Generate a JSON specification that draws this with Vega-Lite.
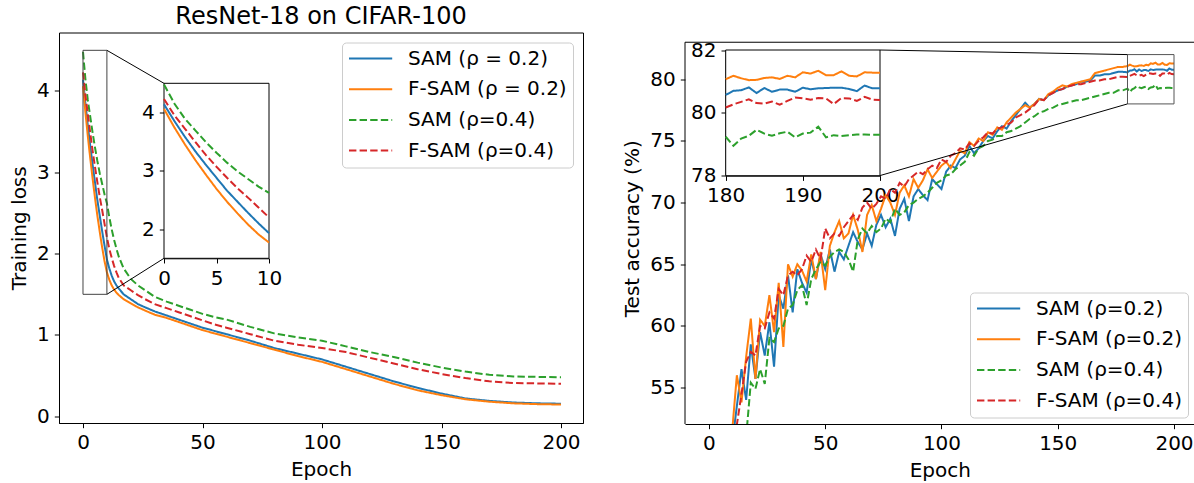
{
"$schema": "https://vega.github.io/schema/vega-lite/v6.json",
"background": "white",
"padding": {"left": 9, "top": 3.5, "right": 0, "bottom": 0},
"spacing": 38,
"datasets": {
"loss": [
{"s":"SAM (ρ = 0.2)","e":0,"v":4.14},{"s":"SAM (ρ = 0.2)","e":1,"v":3.85},{"s":"SAM (ρ = 0.2)","e":2,"v":3.58},{"s":"SAM (ρ = 0.2)","e":3,"v":3.33},{"s":"SAM (ρ = 0.2)","e":4,"v":3.10},{"s":"SAM (ρ = 0.2)","e":5,"v":2.88},{"s":"SAM (ρ = 0.2)","e":6,"v":2.66},{"s":"SAM (ρ = 0.2)","e":7,"v":2.47},{"s":"SAM (ρ = 0.2)","e":8,"v":2.28},{"s":"SAM (ρ = 0.2)","e":9,"v":2.10},{"s":"SAM (ρ = 0.2)","e":10,"v":1.93},{"s":"SAM (ρ = 0.2)","e":11,"v":1.82},{"s":"SAM (ρ = 0.2)","e":12,"v":1.73},{"s":"SAM (ρ = 0.2)","e":13,"v":1.66},{"s":"SAM (ρ = 0.2)","e":14,"v":1.61},{"s":"SAM (ρ = 0.2)","e":15,"v":1.57},{"s":"SAM (ρ = 0.2)","e":17,"v":1.50},{"s":"SAM (ρ = 0.2)","e":20,"v":1.44},{"s":"SAM (ρ = 0.2)","e":23,"v":1.38},{"s":"SAM (ρ = 0.2)","e":26,"v":1.34},{"s":"SAM (ρ = 0.2)","e":30,"v":1.29},{"s":"SAM (ρ = 0.2)","e":35,"v":1.24},{"s":"SAM (ρ = 0.2)","e":40,"v":1.19},{"s":"SAM (ρ = 0.2)","e":45,"v":1.14},{"s":"SAM (ρ = 0.2)","e":50,"v":1.09},{"s":"SAM (ρ = 0.2)","e":55,"v":1.05},{"s":"SAM (ρ = 0.2)","e":60,"v":1.01},{"s":"SAM (ρ = 0.2)","e":70,"v":0.93},{"s":"SAM (ρ = 0.2)","e":80,"v":0.84},{"s":"SAM (ρ = 0.2)","e":90,"v":0.77},{"s":"SAM (ρ = 0.2)","e":100,"v":0.70},{"s":"SAM (ρ = 0.2)","e":110,"v":0.61},{"s":"SAM (ρ = 0.2)","e":120,"v":0.52},{"s":"SAM (ρ = 0.2)","e":130,"v":0.43},{"s":"SAM (ρ = 0.2)","e":140,"v":0.35},{"s":"SAM (ρ = 0.2)","e":150,"v":0.28},{"s":"SAM (ρ = 0.2)","e":160,"v":0.22},{"s":"SAM (ρ = 0.2)","e":170,"v":0.19},{"s":"SAM (ρ = 0.2)","e":180,"v":0.17},{"s":"SAM (ρ = 0.2)","e":190,"v":0.16},{"s":"SAM (ρ = 0.2)","e":200,"v":0.155},
{"s":"F-SAM (ρ = 0.2)","e":0,"v":4.06},{"s":"F-SAM (ρ = 0.2)","e":1,"v":3.74},{"s":"F-SAM (ρ = 0.2)","e":2,"v":3.45},{"s":"F-SAM (ρ = 0.2)","e":3,"v":3.18},{"s":"F-SAM (ρ = 0.2)","e":4,"v":2.93},{"s":"F-SAM (ρ = 0.2)","e":5,"v":2.69},{"s":"F-SAM (ρ = 0.2)","e":6,"v":2.47},{"s":"F-SAM (ρ = 0.2)","e":7,"v":2.27},{"s":"F-SAM (ρ = 0.2)","e":8,"v":2.08},{"s":"F-SAM (ρ = 0.2)","e":9,"v":1.91},{"s":"F-SAM (ρ = 0.2)","e":10,"v":1.77},{"s":"F-SAM (ρ = 0.2)","e":11,"v":1.68},{"s":"F-SAM (ρ = 0.2)","e":12,"v":1.61},{"s":"F-SAM (ρ = 0.2)","e":13,"v":1.56},{"s":"F-SAM (ρ = 0.2)","e":14,"v":1.52},{"s":"F-SAM (ρ = 0.2)","e":15,"v":1.49},{"s":"F-SAM (ρ = 0.2)","e":17,"v":1.44},{"s":"F-SAM (ρ = 0.2)","e":20,"v":1.39},{"s":"F-SAM (ρ = 0.2)","e":23,"v":1.34},{"s":"F-SAM (ρ = 0.2)","e":26,"v":1.30},{"s":"F-SAM (ρ = 0.2)","e":30,"v":1.25},{"s":"F-SAM (ρ = 0.2)","e":35,"v":1.21},{"s":"F-SAM (ρ = 0.2)","e":40,"v":1.16},{"s":"F-SAM (ρ = 0.2)","e":45,"v":1.11},{"s":"F-SAM (ρ = 0.2)","e":50,"v":1.06},{"s":"F-SAM (ρ = 0.2)","e":55,"v":1.02},{"s":"F-SAM (ρ = 0.2)","e":60,"v":0.98},{"s":"F-SAM (ρ = 0.2)","e":70,"v":0.90},{"s":"F-SAM (ρ = 0.2)","e":80,"v":0.82},{"s":"F-SAM (ρ = 0.2)","e":90,"v":0.74},{"s":"F-SAM (ρ = 0.2)","e":100,"v":0.67},{"s":"F-SAM (ρ = 0.2)","e":110,"v":0.58},{"s":"F-SAM (ρ = 0.2)","e":120,"v":0.49},{"s":"F-SAM (ρ = 0.2)","e":130,"v":0.40},{"s":"F-SAM (ρ = 0.2)","e":140,"v":0.32},{"s":"F-SAM (ρ = 0.2)","e":150,"v":0.26},{"s":"F-SAM (ρ = 0.2)","e":160,"v":0.21},{"s":"F-SAM (ρ = 0.2)","e":170,"v":0.18},{"s":"F-SAM (ρ = 0.2)","e":180,"v":0.16},{"s":"F-SAM (ρ = 0.2)","e":190,"v":0.15},{"s":"F-SAM (ρ = 0.2)","e":200,"v":0.145},
{"s":"SAM (ρ=0.4)","e":0,"v":4.48},{"s":"SAM (ρ=0.4)","e":1,"v":4.15},{"s":"SAM (ρ=0.4)","e":2,"v":3.89},{"s":"SAM (ρ=0.4)","e":3,"v":3.69},{"s":"SAM (ρ=0.4)","e":4,"v":3.49},{"s":"SAM (ρ=0.4)","e":5,"v":3.31},{"s":"SAM (ρ=0.4)","e":6,"v":3.14},{"s":"SAM (ρ=0.4)","e":7,"v":2.99},{"s":"SAM (ρ=0.4)","e":8,"v":2.86},{"s":"SAM (ρ=0.4)","e":9,"v":2.73},{"s":"SAM (ρ=0.4)","e":10,"v":2.62},{"s":"SAM (ρ=0.4)","e":11,"v":2.45},{"s":"SAM (ρ=0.4)","e":12,"v":2.30},{"s":"SAM (ρ=0.4)","e":13,"v":2.17},{"s":"SAM (ρ=0.4)","e":14,"v":2.06},{"s":"SAM (ρ=0.4)","e":15,"v":1.96},{"s":"SAM (ρ=0.4)","e":17,"v":1.82},{"s":"SAM (ρ=0.4)","e":20,"v":1.69},{"s":"SAM (ρ=0.4)","e":23,"v":1.61},{"s":"SAM (ρ=0.4)","e":26,"v":1.55},{"s":"SAM (ρ=0.4)","e":30,"v":1.47},{"s":"SAM (ρ=0.4)","e":35,"v":1.41},{"s":"SAM (ρ=0.4)","e":40,"v":1.36},{"s":"SAM (ρ=0.4)","e":45,"v":1.31},{"s":"SAM (ρ=0.4)","e":50,"v":1.26},{"s":"SAM (ρ=0.4)","e":55,"v":1.22},{"s":"SAM (ρ=0.4)","e":60,"v":1.19},{"s":"SAM (ρ=0.4)","e":70,"v":1.10},{"s":"SAM (ρ=0.4)","e":80,"v":1.02},{"s":"SAM (ρ=0.4)","e":90,"v":0.97},{"s":"SAM (ρ=0.4)","e":100,"v":0.93},{"s":"SAM (ρ=0.4)","e":110,"v":0.86},{"s":"SAM (ρ=0.4)","e":120,"v":0.79},{"s":"SAM (ρ=0.4)","e":130,"v":0.73},{"s":"SAM (ρ=0.4)","e":140,"v":0.66},{"s":"SAM (ρ=0.4)","e":150,"v":0.60},{"s":"SAM (ρ=0.4)","e":160,"v":0.55},{"s":"SAM (ρ=0.4)","e":170,"v":0.51},{"s":"SAM (ρ=0.4)","e":180,"v":0.49},{"s":"SAM (ρ=0.4)","e":190,"v":0.485},{"s":"SAM (ρ=0.4)","e":200,"v":0.48},
{"s":"F-SAM (ρ=0.4)","e":0,"v":4.23},{"s":"F-SAM (ρ=0.4)","e":1,"v":3.95},{"s":"F-SAM (ρ=0.4)","e":2,"v":3.72},{"s":"F-SAM (ρ=0.4)","e":3,"v":3.49},{"s":"F-SAM (ρ=0.4)","e":4,"v":3.27},{"s":"F-SAM (ρ=0.4)","e":5,"v":3.07},{"s":"F-SAM (ρ=0.4)","e":6,"v":2.88},{"s":"F-SAM (ρ=0.4)","e":7,"v":2.70},{"s":"F-SAM (ρ=0.4)","e":8,"v":2.54},{"s":"F-SAM (ρ=0.4)","e":9,"v":2.37},{"s":"F-SAM (ρ=0.4)","e":10,"v":2.20},{"s":"F-SAM (ρ=0.4)","e":11,"v":2.06},{"s":"F-SAM (ρ=0.4)","e":12,"v":1.95},{"s":"F-SAM (ρ=0.4)","e":13,"v":1.85},{"s":"F-SAM (ρ=0.4)","e":14,"v":1.77},{"s":"F-SAM (ρ=0.4)","e":15,"v":1.70},{"s":"F-SAM (ρ=0.4)","e":17,"v":1.61},{"s":"F-SAM (ρ=0.4)","e":20,"v":1.55},{"s":"F-SAM (ρ=0.4)","e":23,"v":1.49},{"s":"F-SAM (ρ=0.4)","e":26,"v":1.44},{"s":"F-SAM (ρ=0.4)","e":30,"v":1.38},{"s":"F-SAM (ρ=0.4)","e":35,"v":1.33},{"s":"F-SAM (ρ=0.4)","e":40,"v":1.28},{"s":"F-SAM (ρ=0.4)","e":45,"v":1.23},{"s":"F-SAM (ρ=0.4)","e":50,"v":1.18},{"s":"F-SAM (ρ=0.4)","e":55,"v":1.13},{"s":"F-SAM (ρ=0.4)","e":60,"v":1.09},{"s":"F-SAM (ρ=0.4)","e":70,"v":1.01},{"s":"F-SAM (ρ=0.4)","e":80,"v":0.93},{"s":"F-SAM (ρ=0.4)","e":90,"v":0.88},{"s":"F-SAM (ρ=0.4)","e":100,"v":0.84},{"s":"F-SAM (ρ=0.4)","e":110,"v":0.79},{"s":"F-SAM (ρ=0.4)","e":120,"v":0.72},{"s":"F-SAM (ρ=0.4)","e":130,"v":0.65},{"s":"F-SAM (ρ=0.4)","e":140,"v":0.58},{"s":"F-SAM (ρ=0.4)","e":150,"v":0.52},{"s":"F-SAM (ρ=0.4)","e":160,"v":0.47},{"s":"F-SAM (ρ=0.4)","e":170,"v":0.43},{"s":"F-SAM (ρ=0.4)","e":180,"v":0.41},{"s":"F-SAM (ρ=0.4)","e":190,"v":0.405},{"s":"F-SAM (ρ=0.4)","e":200,"v":0.40}
],
"acc": [
{"s":"SAM (ρ=0.2)","e":6,"v":43},{"s":"SAM (ρ=0.2)","e":8,"v":47.5},{"s":"SAM (ρ=0.2)","e":10,"v":50.5},{"s":"SAM (ρ=0.2)","e":12,"v":53.5},{"s":"SAM (ρ=0.2)","e":14,"v":56.5},{"s":"SAM (ρ=0.2)","e":16,"v":54.0},{"s":"SAM (ρ=0.2)","e":18,"v":58.5},{"s":"SAM (ρ=0.2)","e":20,"v":55.7},{"s":"SAM (ρ=0.2)","e":22,"v":59.5},{"s":"SAM (ρ=0.2)","e":24,"v":57.6},{"s":"SAM (ρ=0.2)","e":26,"v":60.3},{"s":"SAM (ρ=0.2)","e":28,"v":56.7},{"s":"SAM (ρ=0.2)","e":30,"v":62.5},{"s":"SAM (ρ=0.2)","e":32,"v":61.4},{"s":"SAM (ρ=0.2)","e":34,"v":64.1},{"s":"SAM (ρ=0.2)","e":36,"v":61.1},{"s":"SAM (ρ=0.2)","e":38,"v":64.6},{"s":"SAM (ρ=0.2)","e":40,"v":63.5},{"s":"SAM (ρ=0.2)","e":42,"v":62.7},{"s":"SAM (ρ=0.2)","e":44,"v":65.4},{"s":"SAM (ρ=0.2)","e":46,"v":63.8},{"s":"SAM (ρ=0.2)","e":48,"v":65.8},{"s":"SAM (ρ=0.2)","e":50,"v":64.6},{"s":"SAM (ρ=0.2)","e":52,"v":66.2},{"s":"SAM (ρ=0.2)","e":54,"v":64.4},{"s":"SAM (ρ=0.2)","e":56,"v":66.0},{"s":"SAM (ρ=0.2)","e":58,"v":65.4},{"s":"SAM (ρ=0.2)","e":60,"v":66.5},{"s":"SAM (ρ=0.2)","e":62,"v":67.6},{"s":"SAM (ρ=0.2)","e":64,"v":66.8},{"s":"SAM (ρ=0.2)","e":66,"v":66.2},{"s":"SAM (ρ=0.2)","e":68,"v":67.5},{"s":"SAM (ρ=0.2)","e":70,"v":66.5},{"s":"SAM (ρ=0.2)","e":72,"v":68.2},{"s":"SAM (ρ=0.2)","e":74,"v":69.0},{"s":"SAM (ρ=0.2)","e":76,"v":68.0},{"s":"SAM (ρ=0.2)","e":78,"v":68.7},{"s":"SAM (ρ=0.2)","e":80,"v":67.3},{"s":"SAM (ρ=0.2)","e":82,"v":69.5},{"s":"SAM (ρ=0.2)","e":84,"v":70.3},{"s":"SAM (ρ=0.2)","e":86,"v":68.5},{"s":"SAM (ρ=0.2)","e":88,"v":70.5},{"s":"SAM (ρ=0.2)","e":90,"v":71.1},{"s":"SAM (ρ=0.2)","e":92,"v":70.6},{"s":"SAM (ρ=0.2)","e":94,"v":70.2},{"s":"SAM (ρ=0.2)","e":96,"v":71.9},{"s":"SAM (ρ=0.2)","e":98,"v":71.5},{"s":"SAM (ρ=0.2)","e":100,"v":71.1},{"s":"SAM (ρ=0.2)","e":102,"v":72.5},{"s":"SAM (ρ=0.2)","e":104,"v":73.0},{"s":"SAM (ρ=0.2)","e":106,"v":72.8},{"s":"SAM (ρ=0.2)","e":108,"v":73.5},{"s":"SAM (ρ=0.2)","e":110,"v":73.8},{"s":"SAM (ρ=0.2)","e":112,"v":74.6},{"s":"SAM (ρ=0.2)","e":114,"v":74.0},{"s":"SAM (ρ=0.2)","e":116,"v":74.4},{"s":"SAM (ρ=0.2)","e":118,"v":75.0},{"s":"SAM (ρ=0.2)","e":120,"v":75.4},{"s":"SAM (ρ=0.2)","e":122,"v":75.2},{"s":"SAM (ρ=0.2)","e":124,"v":75.8},{"s":"SAM (ρ=0.2)","e":126,"v":76.2},{"s":"SAM (ρ=0.2)","e":128,"v":76.0},{"s":"SAM (ρ=0.2)","e":130,"v":76.6},{"s":"SAM (ρ=0.2)","e":132,"v":77.1},{"s":"SAM (ρ=0.2)","e":134,"v":77.6},{"s":"SAM (ρ=0.2)","e":136,"v":78.1},{"s":"SAM (ρ=0.2)","e":138,"v":77.7},{"s":"SAM (ρ=0.2)","e":140,"v":78.0},{"s":"SAM (ρ=0.2)","e":142,"v":78.4},{"s":"SAM (ρ=0.2)","e":144,"v":78.3},{"s":"SAM (ρ=0.2)","e":146,"v":78.7},{"s":"SAM (ρ=0.2)","e":148,"v":78.9},{"s":"SAM (ρ=0.2)","e":150,"v":79.1},{"s":"SAM (ρ=0.2)","e":152,"v":79.2},{"s":"SAM (ρ=0.2)","e":154,"v":79.4},{"s":"SAM (ρ=0.2)","e":156,"v":79.5},{"s":"SAM (ρ=0.2)","e":158,"v":79.6},{"s":"SAM (ρ=0.2)","e":160,"v":79.8},{"s":"SAM (ρ=0.2)","e":162,"v":79.8},{"s":"SAM (ρ=0.2)","e":164,"v":79.9},{"s":"SAM (ρ=0.2)","e":166,"v":80.3},{"s":"SAM (ρ=0.2)","e":168,"v":80.3},{"s":"SAM (ρ=0.2)","e":170,"v":80.4},{"s":"SAM (ρ=0.2)","e":172,"v":80.4},{"s":"SAM (ρ=0.2)","e":174,"v":80.5},{"s":"SAM (ρ=0.2)","e":176,"v":80.6},{"s":"SAM (ρ=0.2)","e":178,"v":80.6},{"s":"SAM (ρ=0.2)","e":180,"v":80.57},{"s":"SAM (ρ=0.2)","e":181,"v":80.70},{"s":"SAM (ρ=0.2)","e":182,"v":80.72},{"s":"SAM (ρ=0.2)","e":183,"v":80.81},{"s":"SAM (ρ=0.2)","e":184,"v":80.63},{"s":"SAM (ρ=0.2)","e":185,"v":80.79},{"s":"SAM (ρ=0.2)","e":186,"v":80.67},{"s":"SAM (ρ=0.2)","e":187,"v":80.74},{"s":"SAM (ρ=0.2)","e":188,"v":80.74},{"s":"SAM (ρ=0.2)","e":189,"v":80.67},{"s":"SAM (ρ=0.2)","e":190,"v":80.80},{"s":"SAM (ρ=0.2)","e":191,"v":80.75},{"s":"SAM (ρ=0.2)","e":192,"v":80.78},{"s":"SAM (ρ=0.2)","e":193,"v":80.79},{"s":"SAM (ρ=0.2)","e":194,"v":80.80},{"s":"SAM (ρ=0.2)","e":195,"v":80.80},{"s":"SAM (ρ=0.2)","e":196,"v":80.76},{"s":"SAM (ρ=0.2)","e":197,"v":80.69},{"s":"SAM (ρ=0.2)","e":198,"v":80.87},{"s":"SAM (ρ=0.2)","e":199,"v":80.78},{"s":"SAM (ρ=0.2)","e":200,"v":80.78},
{"s":"F-SAM (ρ=0.2)","e":6,"v":44},{"s":"F-SAM (ρ=0.2)","e":8,"v":48.5},{"s":"F-SAM (ρ=0.2)","e":10,"v":51.5},{"s":"F-SAM (ρ=0.2)","e":12,"v":56.0},{"s":"F-SAM (ρ=0.2)","e":14,"v":53.8},{"s":"F-SAM (ρ=0.2)","e":16,"v":57.5},{"s":"F-SAM (ρ=0.2)","e":18,"v":60.6},{"s":"F-SAM (ρ=0.2)","e":20,"v":55.7},{"s":"F-SAM (ρ=0.2)","e":22,"v":60.5},{"s":"F-SAM (ρ=0.2)","e":24,"v":60.0},{"s":"F-SAM (ρ=0.2)","e":26,"v":62.5},{"s":"F-SAM (ρ=0.2)","e":28,"v":59.5},{"s":"F-SAM (ρ=0.2)","e":30,"v":63.5},{"s":"F-SAM (ρ=0.2)","e":32,"v":58.3},{"s":"F-SAM (ρ=0.2)","e":34,"v":65.0},{"s":"F-SAM (ρ=0.2)","e":36,"v":64.0},{"s":"F-SAM (ρ=0.2)","e":38,"v":65.0},{"s":"F-SAM (ρ=0.2)","e":40,"v":64.5},{"s":"F-SAM (ρ=0.2)","e":42,"v":63.6},{"s":"F-SAM (ρ=0.2)","e":44,"v":65.8},{"s":"F-SAM (ρ=0.2)","e":46,"v":63.8},{"s":"F-SAM (ρ=0.2)","e":48,"v":66.0},{"s":"F-SAM (ρ=0.2)","e":50,"v":62.9},{"s":"F-SAM (ρ=0.2)","e":52,"v":66.5},{"s":"F-SAM (ρ=0.2)","e":54,"v":67.6},{"s":"F-SAM (ρ=0.2)","e":56,"v":68.5},{"s":"F-SAM (ρ=0.2)","e":58,"v":67.1},{"s":"F-SAM (ρ=0.2)","e":60,"v":67.5},{"s":"F-SAM (ρ=0.2)","e":62,"v":69.0},{"s":"F-SAM (ρ=0.2)","e":64,"v":67.8},{"s":"F-SAM (ρ=0.2)","e":66,"v":66.0},{"s":"F-SAM (ρ=0.2)","e":68,"v":69.0},{"s":"F-SAM (ρ=0.2)","e":70,"v":69.8},{"s":"F-SAM (ρ=0.2)","e":72,"v":68.5},{"s":"F-SAM (ρ=0.2)","e":74,"v":69.5},{"s":"F-SAM (ρ=0.2)","e":76,"v":70.6},{"s":"F-SAM (ρ=0.2)","e":78,"v":70.0},{"s":"F-SAM (ρ=0.2)","e":80,"v":69.0},{"s":"F-SAM (ρ=0.2)","e":82,"v":70.8},{"s":"F-SAM (ρ=0.2)","e":84,"v":71.4},{"s":"F-SAM (ρ=0.2)","e":86,"v":70.5},{"s":"F-SAM (ρ=0.2)","e":88,"v":71.9},{"s":"F-SAM (ρ=0.2)","e":90,"v":71.2},{"s":"F-SAM (ρ=0.2)","e":92,"v":71.8},{"s":"F-SAM (ρ=0.2)","e":94,"v":72.7},{"s":"F-SAM (ρ=0.2)","e":96,"v":72.0},{"s":"F-SAM (ρ=0.2)","e":98,"v":72.5},{"s":"F-SAM (ρ=0.2)","e":100,"v":73.0},{"s":"F-SAM (ρ=0.2)","e":102,"v":73.3},{"s":"F-SAM (ρ=0.2)","e":104,"v":72.8},{"s":"F-SAM (ρ=0.2)","e":106,"v":73.5},{"s":"F-SAM (ρ=0.2)","e":108,"v":74.2},{"s":"F-SAM (ρ=0.2)","e":110,"v":74.0},{"s":"F-SAM (ρ=0.2)","e":112,"v":74.9},{"s":"F-SAM (ρ=0.2)","e":114,"v":74.6},{"s":"F-SAM (ρ=0.2)","e":116,"v":75.2},{"s":"F-SAM (ρ=0.2)","e":118,"v":75.0},{"s":"F-SAM (ρ=0.2)","e":120,"v":75.7},{"s":"F-SAM (ρ=0.2)","e":122,"v":75.5},{"s":"F-SAM (ρ=0.2)","e":124,"v":76.1},{"s":"F-SAM (ρ=0.2)","e":126,"v":75.9},{"s":"F-SAM (ρ=0.2)","e":128,"v":76.5},{"s":"F-SAM (ρ=0.2)","e":130,"v":76.9},{"s":"F-SAM (ρ=0.2)","e":132,"v":77.3},{"s":"F-SAM (ρ=0.2)","e":134,"v":77.6},{"s":"F-SAM (ρ=0.2)","e":136,"v":77.9},{"s":"F-SAM (ρ=0.2)","e":138,"v":77.7},{"s":"F-SAM (ρ=0.2)","e":140,"v":78.0},{"s":"F-SAM (ρ=0.2)","e":142,"v":78.4},{"s":"F-SAM (ρ=0.2)","e":144,"v":78.3},{"s":"F-SAM (ρ=0.2)","e":146,"v":78.8},{"s":"F-SAM (ρ=0.2)","e":148,"v":79.0},{"s":"F-SAM (ρ=0.2)","e":150,"v":79.3},{"s":"F-SAM (ρ=0.2)","e":152,"v":79.5},{"s":"F-SAM (ρ=0.2)","e":154,"v":79.4},{"s":"F-SAM (ρ=0.2)","e":156,"v":79.6},{"s":"F-SAM (ρ=0.2)","e":158,"v":79.7},{"s":"F-SAM (ρ=0.2)","e":160,"v":79.8},{"s":"F-SAM (ρ=0.2)","e":162,"v":79.9},{"s":"F-SAM (ρ=0.2)","e":164,"v":80.0},{"s":"F-SAM (ρ=0.2)","e":166,"v":80.5},{"s":"F-SAM (ρ=0.2)","e":168,"v":80.6},{"s":"F-SAM (ρ=0.2)","e":170,"v":80.7},{"s":"F-SAM (ρ=0.2)","e":172,"v":80.8},{"s":"F-SAM (ρ=0.2)","e":174,"v":80.9},{"s":"F-SAM (ρ=0.2)","e":176,"v":81.0},{"s":"F-SAM (ρ=0.2)","e":178,"v":81.0},{"s":"F-SAM (ρ=0.2)","e":180,"v":81.07},{"s":"F-SAM (ρ=0.2)","e":181,"v":81.18},{"s":"F-SAM (ρ=0.2)","e":182,"v":81.10},{"s":"F-SAM (ρ=0.2)","e":183,"v":81.04},{"s":"F-SAM (ρ=0.2)","e":184,"v":81.05},{"s":"F-SAM (ρ=0.2)","e":185,"v":81.11},{"s":"F-SAM (ρ=0.2)","e":186,"v":81.13},{"s":"F-SAM (ρ=0.2)","e":187,"v":81.08},{"s":"F-SAM (ρ=0.2)","e":188,"v":81.18},{"s":"F-SAM (ρ=0.2)","e":189,"v":81.13},{"s":"F-SAM (ρ=0.2)","e":190,"v":81.29},{"s":"F-SAM (ρ=0.2)","e":191,"v":81.25},{"s":"F-SAM (ρ=0.2)","e":192,"v":81.34},{"s":"F-SAM (ρ=0.2)","e":193,"v":81.20},{"s":"F-SAM (ρ=0.2)","e":194,"v":81.20},{"s":"F-SAM (ρ=0.2)","e":195,"v":81.32},{"s":"F-SAM (ρ=0.2)","e":196,"v":81.18},{"s":"F-SAM (ρ=0.2)","e":197,"v":81.16},{"s":"F-SAM (ρ=0.2)","e":198,"v":81.29},{"s":"F-SAM (ρ=0.2)","e":199,"v":81.28},{"s":"F-SAM (ρ=0.2)","e":200,"v":81.28},
{"s":"SAM (ρ=0.4)","e":10,"v":45},{"s":"SAM (ρ=0.4)","e":12,"v":47.5},{"s":"SAM (ρ=0.4)","e":14,"v":49.5},{"s":"SAM (ρ=0.4)","e":16,"v":51.0},{"s":"SAM (ρ=0.4)","e":18,"v":55.4},{"s":"SAM (ρ=0.4)","e":20,"v":54.9},{"s":"SAM (ρ=0.4)","e":22,"v":56.5},{"s":"SAM (ρ=0.4)","e":24,"v":55.3},{"s":"SAM (ρ=0.4)","e":26,"v":59.0},{"s":"SAM (ρ=0.4)","e":28,"v":58.7},{"s":"SAM (ρ=0.4)","e":30,"v":59.8},{"s":"SAM (ρ=0.4)","e":32,"v":60.0},{"s":"SAM (ρ=0.4)","e":34,"v":61.4},{"s":"SAM (ρ=0.4)","e":36,"v":61.7},{"s":"SAM (ρ=0.4)","e":38,"v":62.9},{"s":"SAM (ρ=0.4)","e":40,"v":63.3},{"s":"SAM (ρ=0.4)","e":42,"v":61.7},{"s":"SAM (ρ=0.4)","e":44,"v":63.8},{"s":"SAM (ρ=0.4)","e":46,"v":64.6},{"s":"SAM (ρ=0.4)","e":48,"v":65.2},{"s":"SAM (ρ=0.4)","e":50,"v":64.9},{"s":"SAM (ρ=0.4)","e":52,"v":65.6},{"s":"SAM (ρ=0.4)","e":54,"v":66.0},{"s":"SAM (ρ=0.4)","e":56,"v":66.2},{"s":"SAM (ρ=0.4)","e":58,"v":66.0},{"s":"SAM (ρ=0.4)","e":60,"v":65.4},{"s":"SAM (ρ=0.4)","e":62,"v":64.4},{"s":"SAM (ρ=0.4)","e":64,"v":67.0},{"s":"SAM (ρ=0.4)","e":66,"v":67.9},{"s":"SAM (ρ=0.4)","e":68,"v":67.5},{"s":"SAM (ρ=0.4)","e":70,"v":68.1},{"s":"SAM (ρ=0.4)","e":72,"v":67.6},{"s":"SAM (ρ=0.4)","e":74,"v":67.9},{"s":"SAM (ρ=0.4)","e":76,"v":68.7},{"s":"SAM (ρ=0.4)","e":78,"v":68.4},{"s":"SAM (ρ=0.4)","e":80,"v":69.5},{"s":"SAM (ρ=0.4)","e":82,"v":69.0},{"s":"SAM (ρ=0.4)","e":84,"v":69.2},{"s":"SAM (ρ=0.4)","e":86,"v":69.8},{"s":"SAM (ρ=0.4)","e":88,"v":70.0},{"s":"SAM (ρ=0.4)","e":90,"v":70.3},{"s":"SAM (ρ=0.4)","e":92,"v":70.5},{"s":"SAM (ρ=0.4)","e":94,"v":70.8},{"s":"SAM (ρ=0.4)","e":96,"v":71.2},{"s":"SAM (ρ=0.4)","e":98,"v":71.6},{"s":"SAM (ρ=0.4)","e":100,"v":71.8},{"s":"SAM (ρ=0.4)","e":102,"v":72.2},{"s":"SAM (ρ=0.4)","e":104,"v":72.3},{"s":"SAM (ρ=0.4)","e":106,"v":72.7},{"s":"SAM (ρ=0.4)","e":108,"v":73.0},{"s":"SAM (ρ=0.4)","e":110,"v":73.3},{"s":"SAM (ρ=0.4)","e":112,"v":74.1},{"s":"SAM (ρ=0.4)","e":114,"v":73.8},{"s":"SAM (ρ=0.4)","e":116,"v":74.4},{"s":"SAM (ρ=0.4)","e":118,"v":74.6},{"s":"SAM (ρ=0.4)","e":120,"v":75.0},{"s":"SAM (ρ=0.4)","e":122,"v":75.1},{"s":"SAM (ρ=0.4)","e":124,"v":75.4},{"s":"SAM (ρ=0.4)","e":126,"v":75.4},{"s":"SAM (ρ=0.4)","e":128,"v":75.7},{"s":"SAM (ρ=0.4)","e":130,"v":75.8},{"s":"SAM (ρ=0.4)","e":132,"v":76.0},{"s":"SAM (ρ=0.4)","e":134,"v":76.2},{"s":"SAM (ρ=0.4)","e":136,"v":76.5},{"s":"SAM (ρ=0.4)","e":138,"v":76.8},{"s":"SAM (ρ=0.4)","e":140,"v":77.0},{"s":"SAM (ρ=0.4)","e":142,"v":77.3},{"s":"SAM (ρ=0.4)","e":144,"v":77.4},{"s":"SAM (ρ=0.4)","e":146,"v":77.6},{"s":"SAM (ρ=0.4)","e":148,"v":77.7},{"s":"SAM (ρ=0.4)","e":150,"v":77.9},{"s":"SAM (ρ=0.4)","e":152,"v":78.0},{"s":"SAM (ρ=0.4)","e":154,"v":78.1},{"s":"SAM (ρ=0.4)","e":156,"v":78.2},{"s":"SAM (ρ=0.4)","e":158,"v":78.3},{"s":"SAM (ρ=0.4)","e":160,"v":78.3},{"s":"SAM (ρ=0.4)","e":162,"v":78.4},{"s":"SAM (ρ=0.4)","e":164,"v":78.5},{"s":"SAM (ρ=0.4)","e":166,"v":78.6},{"s":"SAM (ρ=0.4)","e":168,"v":78.7},{"s":"SAM (ρ=0.4)","e":170,"v":78.8},{"s":"SAM (ρ=0.4)","e":172,"v":78.9},{"s":"SAM (ρ=0.4)","e":174,"v":78.9},{"s":"SAM (ρ=0.4)","e":176,"v":79.1},{"s":"SAM (ρ=0.4)","e":178,"v":79.1},{"s":"SAM (ρ=0.4)","e":180,"v":79.24},{"s":"SAM (ρ=0.4)","e":181,"v":78.95},{"s":"SAM (ρ=0.4)","e":182,"v":79.18},{"s":"SAM (ρ=0.4)","e":183,"v":79.27},{"s":"SAM (ρ=0.4)","e":184,"v":79.46},{"s":"SAM (ρ=0.4)","e":185,"v":79.34},{"s":"SAM (ρ=0.4)","e":186,"v":79.27},{"s":"SAM (ρ=0.4)","e":187,"v":79.35},{"s":"SAM (ρ=0.4)","e":188,"v":79.40},{"s":"SAM (ρ=0.4)","e":189,"v":79.22},{"s":"SAM (ρ=0.4)","e":190,"v":79.34},{"s":"SAM (ρ=0.4)","e":191,"v":79.37},{"s":"SAM (ρ=0.4)","e":192,"v":79.56},{"s":"SAM (ρ=0.4)","e":193,"v":79.22},{"s":"SAM (ρ=0.4)","e":194,"v":79.29},{"s":"SAM (ρ=0.4)","e":195,"v":79.26},{"s":"SAM (ρ=0.4)","e":196,"v":79.29},{"s":"SAM (ρ=0.4)","e":197,"v":79.31},{"s":"SAM (ρ=0.4)","e":198,"v":79.31},{"s":"SAM (ρ=0.4)","e":199,"v":79.30},{"s":"SAM (ρ=0.4)","e":200,"v":79.30},
{"s":"F-SAM (ρ=0.4)","e":6,"v":42.5},{"s":"F-SAM (ρ=0.4)","e":8,"v":47},{"s":"F-SAM (ρ=0.4)","e":10,"v":50},{"s":"F-SAM (ρ=0.4)","e":12,"v":52.0},{"s":"F-SAM (ρ=0.4)","e":14,"v":54.5},{"s":"F-SAM (ρ=0.4)","e":16,"v":57.1},{"s":"F-SAM (ρ=0.4)","e":18,"v":57.9},{"s":"F-SAM (ρ=0.4)","e":20,"v":57.6},{"s":"F-SAM (ρ=0.4)","e":22,"v":60.0},{"s":"F-SAM (ρ=0.4)","e":24,"v":59.8},{"s":"F-SAM (ρ=0.4)","e":26,"v":61.1},{"s":"F-SAM (ρ=0.4)","e":28,"v":60.6},{"s":"F-SAM (ρ=0.4)","e":30,"v":63.0},{"s":"F-SAM (ρ=0.4)","e":32,"v":62.5},{"s":"F-SAM (ρ=0.4)","e":34,"v":64.1},{"s":"F-SAM (ρ=0.4)","e":36,"v":64.4},{"s":"F-SAM (ρ=0.4)","e":38,"v":64.1},{"s":"F-SAM (ρ=0.4)","e":40,"v":64.6},{"s":"F-SAM (ρ=0.4)","e":42,"v":65.7},{"s":"F-SAM (ρ=0.4)","e":44,"v":65.2},{"s":"F-SAM (ρ=0.4)","e":46,"v":66.2},{"s":"F-SAM (ρ=0.4)","e":48,"v":65.4},{"s":"F-SAM (ρ=0.4)","e":50,"v":67.9},{"s":"F-SAM (ρ=0.4)","e":52,"v":67.1},{"s":"F-SAM (ρ=0.4)","e":54,"v":67.5},{"s":"F-SAM (ρ=0.4)","e":56,"v":67.3},{"s":"F-SAM (ρ=0.4)","e":58,"v":68.0},{"s":"F-SAM (ρ=0.4)","e":60,"v":68.5},{"s":"F-SAM (ρ=0.4)","e":62,"v":69.0},{"s":"F-SAM (ρ=0.4)","e":64,"v":68.6},{"s":"F-SAM (ρ=0.4)","e":66,"v":69.6},{"s":"F-SAM (ρ=0.4)","e":68,"v":70.0},{"s":"F-SAM (ρ=0.4)","e":70,"v":69.5},{"s":"F-SAM (ρ=0.4)","e":72,"v":69.9},{"s":"F-SAM (ρ=0.4)","e":74,"v":70.5},{"s":"F-SAM (ρ=0.4)","e":76,"v":70.3},{"s":"F-SAM (ρ=0.4)","e":78,"v":71.1},{"s":"F-SAM (ρ=0.4)","e":80,"v":70.8},{"s":"F-SAM (ρ=0.4)","e":82,"v":71.6},{"s":"F-SAM (ρ=0.4)","e":84,"v":71.3},{"s":"F-SAM (ρ=0.4)","e":86,"v":71.9},{"s":"F-SAM (ρ=0.4)","e":88,"v":72.2},{"s":"F-SAM (ρ=0.4)","e":90,"v":72.5},{"s":"F-SAM (ρ=0.4)","e":92,"v":72.3},{"s":"F-SAM (ρ=0.4)","e":94,"v":72.7},{"s":"F-SAM (ρ=0.4)","e":96,"v":73.0},{"s":"F-SAM (ρ=0.4)","e":98,"v":72.8},{"s":"F-SAM (ρ=0.4)","e":100,"v":73.5},{"s":"F-SAM (ρ=0.4)","e":102,"v":73.3},{"s":"F-SAM (ρ=0.4)","e":104,"v":73.8},{"s":"F-SAM (ρ=0.4)","e":106,"v":74.0},{"s":"F-SAM (ρ=0.4)","e":108,"v":74.4},{"s":"F-SAM (ρ=0.4)","e":110,"v":74.3},{"s":"F-SAM (ρ=0.4)","e":112,"v":74.8},{"s":"F-SAM (ρ=0.4)","e":114,"v":74.6},{"s":"F-SAM (ρ=0.4)","e":116,"v":75.0},{"s":"F-SAM (ρ=0.4)","e":118,"v":75.3},{"s":"F-SAM (ρ=0.4)","e":120,"v":75.7},{"s":"F-SAM (ρ=0.4)","e":122,"v":75.6},{"s":"F-SAM (ρ=0.4)","e":124,"v":76.0},{"s":"F-SAM (ρ=0.4)","e":126,"v":76.1},{"s":"F-SAM (ρ=0.4)","e":128,"v":76.3},{"s":"F-SAM (ρ=0.4)","e":130,"v":76.5},{"s":"F-SAM (ρ=0.4)","e":132,"v":76.9},{"s":"F-SAM (ρ=0.4)","e":134,"v":77.1},{"s":"F-SAM (ρ=0.4)","e":136,"v":77.3},{"s":"F-SAM (ρ=0.4)","e":138,"v":77.6},{"s":"F-SAM (ρ=0.4)","e":140,"v":77.9},{"s":"F-SAM (ρ=0.4)","e":142,"v":78.4},{"s":"F-SAM (ρ=0.4)","e":144,"v":78.3},{"s":"F-SAM (ρ=0.4)","e":146,"v":78.7},{"s":"F-SAM (ρ=0.4)","e":148,"v":78.9},{"s":"F-SAM (ρ=0.4)","e":150,"v":79.1},{"s":"F-SAM (ρ=0.4)","e":152,"v":79.2},{"s":"F-SAM (ρ=0.4)","e":154,"v":79.4},{"s":"F-SAM (ρ=0.4)","e":156,"v":79.5},{"s":"F-SAM (ρ=0.4)","e":158,"v":79.6},{"s":"F-SAM (ρ=0.4)","e":160,"v":79.6},{"s":"F-SAM (ρ=0.4)","e":162,"v":79.7},{"s":"F-SAM (ρ=0.4)","e":164,"v":79.8},{"s":"F-SAM (ρ=0.4)","e":166,"v":79.9},{"s":"F-SAM (ρ=0.4)","e":168,"v":79.9},{"s":"F-SAM (ρ=0.4)","e":170,"v":80.0},{"s":"F-SAM (ρ=0.4)","e":172,"v":80.0},{"s":"F-SAM (ρ=0.4)","e":174,"v":80.1},{"s":"F-SAM (ρ=0.4)","e":176,"v":80.2},{"s":"F-SAM (ρ=0.4)","e":178,"v":80.2},{"s":"F-SAM (ρ=0.4)","e":180,"v":80.17},{"s":"F-SAM (ρ=0.4)","e":181,"v":80.27},{"s":"F-SAM (ρ=0.4)","e":182,"v":80.35},{"s":"F-SAM (ρ=0.4)","e":183,"v":80.43},{"s":"F-SAM (ρ=0.4)","e":184,"v":80.31},{"s":"F-SAM (ρ=0.4)","e":185,"v":80.29},{"s":"F-SAM (ρ=0.4)","e":186,"v":80.36},{"s":"F-SAM (ρ=0.4)","e":187,"v":80.26},{"s":"F-SAM (ρ=0.4)","e":188,"v":80.38},{"s":"F-SAM (ρ=0.4)","e":189,"v":80.49},{"s":"F-SAM (ρ=0.4)","e":190,"v":80.46},{"s":"F-SAM (ρ=0.4)","e":191,"v":80.42},{"s":"F-SAM (ρ=0.4)","e":192,"v":80.47},{"s":"F-SAM (ρ=0.4)","e":193,"v":80.46},{"s":"F-SAM (ρ=0.4)","e":194,"v":80.28},{"s":"F-SAM (ρ=0.4)","e":195,"v":80.47},{"s":"F-SAM (ρ=0.4)","e":196,"v":80.46},{"s":"F-SAM (ρ=0.4)","e":197,"v":80.38},{"s":"F-SAM (ρ=0.4)","e":198,"v":80.51},{"s":"F-SAM (ρ=0.4)","e":199,"v":80.42},{"s":"F-SAM (ρ=0.4)","e":200,"v":80.41}
]
},
"resolve": {"scale": {"color": "independent", "strokeDash": "independent"}, "legend": {"color": "independent", "strokeDash": "independent"}},
"hconcat": [
{
"width": 524, "height": 390.5,
"title": {"text": "ResNet-18 on CIFAR-100", "fontSize": 24, "fontWeight": "normal", "offset": 4, "color": "black", "anchor": "middle"},
"view": {"stroke": "black", "strokeWidth": 1},
"resolve": {"scale": {"x": "independent", "y": "independent"}, "axis": {"x": "independent", "y": "independent"}},
"layer": [
{"layer": [
{"data": {"name": "loss"}, "mark": {"type": "line", "strokeWidth": 2, "clip": true},
"encoding": {
"x": {"field": "e", "type": "quantitative", "scale": {"domain": [-10.04, 209.2], "nice": false, "zero": false}, "axis": {"title": "Epoch", "values": [0, 50, 100, 150, 200], "orient": "bottom", "format": "d"}},
"y": {"field": "v", "type": "quantitative", "scale": {"domain": [-0.082, 4.719], "nice": false, "zero": false}, "axis": {"title": "Training loss", "values": [0, 1, 2, 3, 4], "orient": "left", "format": "d"}},
"color": {"field": "s", "type": "nominal", "scale": {"domain": ["SAM (ρ = 0.2)", "F-SAM (ρ = 0.2)", "SAM (ρ=0.4)", "F-SAM (ρ=0.4)"], "range": ["#1f77b4", "#ff7f0e", "#2ca02c", "#d62728"]}, "legend": {"title": null, "orient": "top-right", "offset": 10}},
"strokeDash": {"field": "s", "type": "nominal", "scale": {"domain": ["SAM (ρ = 0.2)", "F-SAM (ρ = 0.2)", "SAM (ρ=0.4)", "F-SAM (ρ=0.4)"], "range": [[1, 0], [1, 0], [7.4, 3.2], [7.4, 3.2]]}, "legend": {"title": null, "orient": "top-right", "offset": 10}}
}},
{"data": {"values": [{"x": 0, "x2": 10, "y": 1.5, "y2": 4.5}]}, "mark": {"type": "rect", "fillOpacity": 0, "stroke": "#444444", "strokeWidth": 1},
"encoding": {"x": {"field": "x", "type": "quantitative"}, "x2": {"field": "x2"}, "y": {"field": "y", "type": "quantitative"}, "y2": {"field": "y2"}}},
{"data": {"values": [{"x": 10, "y": 4.5, "x2": 33.9, "y2": 4.094}, {"x": 10, "y": 1.5, "x2": 33.9, "y2": 1.943}]}, "mark": {"type": "rule", "color": "black", "strokeWidth": 1},
"encoding": {"x": {"field": "x", "type": "quantitative"}, "x2": {"field": "x2"}, "y": {"field": "y", "type": "quantitative"}, "y2": {"field": "y2"}}}
]},
{"layer": [
{"data": {"values": [{"x": 0, "x2": 10, "y": 1.5, "y2": 4.5}]}, "mark": {"type": "rect", "fill": "white", "stroke": "black", "strokeWidth": 1},
"encoding": {
"x": {"field": "x", "type": "quantitative", "scale": {"domain": [0, 10], "range": [105, 210], "nice": false, "zero": false}, "axis": {"title": null, "values": [0, 5, 10], "orient": "bottom", "offset": -164.7, "format": "d"}},
"x2": {"field": "x2"},
"y": {"field": "y", "type": "quantitative", "scale": {"domain": [1.5, 4.5], "range": [225.8, 50.8], "nice": false, "zero": false}, "axis": {"title": null, "values": [2, 3, 4], "orient": "left", "offset": -105, "format": "d"}},
"y2": {"field": "y2"}}},
{"data": {"name": "loss"}, "transform": [{"filter": "datum.e <= 10"}], "mark": {"type": "line", "strokeWidth": 2},
"encoding": {
"x": {"field": "e", "type": "quantitative"},
"y": {"field": "v", "type": "quantitative"},
"color": {"field": "s", "type": "nominal"},
"strokeDash": {"field": "s", "type": "nominal"}
}}
]}
]
},
{
"width": 509.7, "height": 391.5,
"view": {"stroke": null},
"resolve": {"scale": {"x": "independent", "y": "independent"}, "axis": {"x": "independent", "y": "independent"}},
"layer": [
{"layer": [
{"data": {"name": "acc"}, "mark": {"type": "line", "strokeWidth": 2, "clip": true},
"encoding": {
"x": {"field": "e", "type": "quantitative", "scale": {"domain": [-10.3, 208.9], "nice": false, "zero": false}, "axis": {"title": "Epoch", "values": [0, 50, 100, 150, 200], "orient": "bottom", "format": "d"}},
"y": {"field": "v", "type": "quantitative", "scale": {"domain": [52.05, 83.79], "nice": false, "zero": false}, "axis": {"title": "Test accuracy (%)", "values": [55, 60, 65, 70, 75, 80], "orient": "left", "format": "d", "domain": false}},
"color": {"field": "s", "type": "nominal", "scale": {"domain": ["SAM (ρ=0.2)", "F-SAM (ρ=0.2)", "SAM (ρ=0.4)", "F-SAM (ρ=0.4)"], "range": ["#1f77b4", "#ff7f0e", "#2ca02c", "#d62728"]}, "legend": {"title": null, "orient": "bottom-right", "offset": 7}},
"strokeDash": {"field": "s", "type": "nominal", "scale": {"domain": ["SAM (ρ=0.2)", "F-SAM (ρ=0.2)", "SAM (ρ=0.4)", "F-SAM (ρ=0.4)"], "range": [[1, 0], [1, 0], [7.4, 3.2], [7.4, 3.2]]}, "legend": {"title": null, "orient": "bottom-right", "offset": 7}}
}},
{"data": {"values": [{"y": 83.0}]}, "mark": {"type": "rule", "color": "black", "strokeWidth": 1},
"encoding": {"y": {"field": "y", "type": "quantitative"}}},
{"data": {"values": [{"x": -10.3, "y": 52.05, "y2": 83.0}]}, "mark": {"type": "rule", "color": "black", "strokeWidth": 1},
"encoding": {"x": {"field": "x", "type": "quantitative"}, "y": {"field": "y", "type": "quantitative"}, "y2": {"field": "y2"}}},
{"data": {"values": [{"x": 180, "x2": 200, "y": 78, "y2": 82}]}, "mark": {"type": "rect", "fillOpacity": 0, "stroke": "#555555", "strokeWidth": 1},
"encoding": {"x": {"field": "x", "type": "quantitative"}, "x2": {"field": "x2"}, "y": {"field": "y", "type": "quantitative"}, "y2": {"field": "y2"}}},
{"data": {"values": [{"x": 180, "y": 82, "x2": 73.55, "y2": 82.37}, {"x": 180, "y": 78, "x2": 73.55, "y2": 72.19}]}, "mark": {"type": "rule", "color": "black", "strokeWidth": 1},
"encoding": {"x": {"field": "x", "type": "quantitative"}, "x2": {"field": "x2"}, "y": {"field": "y", "type": "quantitative"}, "y2": {"field": "y2"}}}
]},
{"layer": [
{"data": {"values": [{"x": 180, "x2": 200, "y": 78, "y2": 82}]}, "mark": {"type": "rect", "fill": "white", "stroke": "black", "strokeWidth": 1},
"encoding": {
"x": {"field": "x", "type": "quantitative", "scale": {"domain": [180, 200], "range": [40.7, 195], "nice": false, "zero": false}, "axis": {"title": null, "values": [180, 190, 200], "orient": "bottom", "offset": -248.3, "format": "d"}},
"x2": {"field": "x2"},
"y": {"field": "y", "type": "quantitative", "scale": {"domain": [78, 82], "range": [143.2, 17.5], "nice": false, "zero": false}, "axis": {"title": null, "values": [78, 80, 82], "orient": "left", "offset": -40.7, "format": "d"}},
"y2": {"field": "y2"}}},
{"data": {"name": "acc"}, "transform": [{"filter": "datum.e >= 180"}], "mark": {"type": "line", "strokeWidth": 2},
"encoding": {
"x": {"field": "e", "type": "quantitative"},
"y": {"field": "v", "type": "quantitative"},
"color": {"field": "s", "type": "nominal"},
"strokeDash": {"field": "s", "type": "nominal"}
}}
]}
]
}
],
"config": {
"font": "DejaVu Sans",
"title": {"font": "DejaVu Sans", "color": "black"},
"axis": {"grid": false, "domainColor": "black", "domainWidth": 1, "tickColor": "black", "tickWidth": 1, "tickSize": 4.7, "labelFontSize": 20, "labelColor": "black", "labelPadding": 5, "titleFontSize": 20, "titleFontWeight": "normal", "titleColor": "black", "titlePadding": 7, "labelFlush": false, "labelOverlap": false, "labelBound": false, "labelFont": "DejaVu Sans", "titleFont": "DejaVu Sans"},
"legend": {"labelFontSize": 20, "labelFont": "DejaVu Sans", "labelColor": "black", "symbolType": "M-1,0H3.8", "symbolSize": 324, "symbolStrokeWidth": 2, "labelOffset": 40, "padding": 6, "rowPadding": 10.7, "strokeColor": "#cccccc", "fillColor": "rgba(255,255,255,0.8)", "cornerRadius": 4, "labelLimit": 400}
}
}
